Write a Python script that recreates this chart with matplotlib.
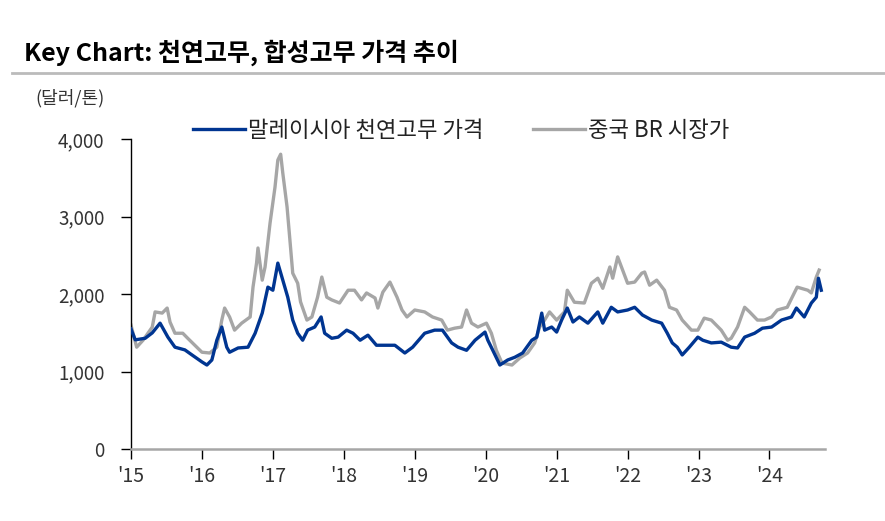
import matplotlib
matplotlib.use("Agg")
import matplotlib.pyplot as plt
from matplotlib.ticker import FuncFormatter

plt.rcParams['font.family'] = ['Noto Sans CJK KR', 'DejaVu Sans']

### 말레이시아 천연고무 가격 (달러/톤)
my_years = [2015.00, 2015.06, 2015.20, 2015.30, 2015.41, 2015.52, 2015.62, 2015.76, 2015.86,
            2016.00, 2016.07, 2016.14, 2016.21, 2016.28, 2016.35, 2016.39, 2016.51, 2016.65,
            2016.75, 2016.85, 2016.93, 2017.00, 2017.07, 2017.14, 2017.21, 2017.28, 2017.35,
            2017.42, 2017.49, 2017.59, 2017.68, 2017.73, 2017.83, 2017.92, 2018.04, 2018.13,
            2018.23, 2018.34, 2018.46, 2018.58, 2018.72, 2018.86, 2018.97, 2019.14, 2019.28,
            2019.39, 2019.52, 2019.61, 2019.73, 2019.85, 2019.99, 2020.03, 2020.10, 2020.20,
            2020.31, 2020.41, 2020.52, 2020.65, 2020.72, 2020.79, 2020.83, 2020.93, 2021.00,
            2021.07, 2021.15, 2021.23, 2021.32, 2021.44, 2021.58, 2021.65, 2021.77, 2021.86,
            2022.00, 2022.10, 2022.21, 2022.34, 2022.48, 2022.56, 2022.63, 2022.70, 2022.77,
            2022.87, 2022.99, 2023.06, 2023.18, 2023.32, 2023.46, 2023.55, 2023.65, 2023.79,
            2023.90, 2024.03, 2024.17, 2024.31, 2024.38, 2024.49, 2024.59, 2024.66, 2024.69,
            2024.73]
my_price = [1550, 1410, 1430, 1500, 1625, 1445, 1315, 1280, 1215,
            1125, 1085, 1150, 1405, 1575, 1315, 1250, 1305, 1315,
            1495, 1755, 2090, 2050, 2400, 2180, 1960, 1665, 1495,
            1405, 1535, 1575, 1705, 1495, 1430, 1445, 1535, 1495,
            1405, 1470, 1340, 1340, 1340, 1240, 1315, 1495, 1535,
            1535, 1370, 1315, 1275, 1405, 1510, 1405, 1275, 1085,
            1150, 1185, 1240, 1405, 1445, 1755, 1535, 1575, 1510,
            1665, 1820, 1640, 1705, 1625, 1770, 1625, 1830, 1770,
            1795, 1830, 1730, 1665, 1625, 1495, 1370, 1315, 1215,
            1315, 1445, 1405, 1370, 1380, 1315, 1305, 1445, 1495,
            1560, 1575, 1665, 1705, 1820, 1705, 1885, 1960, 2205,
            2050]

### 중국 BR 시장가 (달러/톤)
br_years = [2015.00, 2015.08, 2015.17, 2015.30, 2015.34, 2015.44, 2015.51, 2015.55, 2015.62,
            2015.73, 2015.80, 2015.90, 2016.00, 2016.11, 2016.21, 2016.28, 2016.32, 2016.39,
            2016.46, 2016.56, 2016.68, 2016.72, 2016.77, 2016.79, 2016.85, 2016.89, 2016.96,
            2017.03, 2017.07, 2017.11, 2017.14, 2017.20, 2017.24, 2017.28, 2017.35, 2017.39,
            2017.48, 2017.55, 2017.63, 2017.69, 2017.76, 2017.83, 2017.94, 2018.06, 2018.15,
            2018.25, 2018.32, 2018.44, 2018.48, 2018.55, 2018.65, 2018.75, 2018.82, 2018.89,
            2019.00, 2019.14, 2019.25, 2019.38, 2019.46, 2019.56, 2019.66, 2019.73, 2019.80,
            2019.89, 2020.01, 2020.08, 2020.15, 2020.23, 2020.37, 2020.48, 2020.59, 2020.69,
            2020.76, 2020.83, 2020.90, 2021.00, 2021.11, 2021.15, 2021.25, 2021.39, 2021.49,
            2021.58, 2021.65, 2021.75, 2021.79, 2021.86, 2021.93, 2022.00, 2022.10, 2022.20,
            2022.24, 2022.31, 2022.41, 2022.52, 2022.59, 2022.69, 2022.77, 2022.90, 2022.99,
            2023.08, 2023.18, 2023.32, 2023.41, 2023.46, 2023.55, 2023.65, 2023.72, 2023.83,
            2023.93, 2024.03, 2024.11, 2024.25, 2024.39, 2024.54, 2024.59, 2024.66, 2024.70]
br_price = [1600, 1315, 1405, 1575, 1770, 1755, 1820, 1640, 1495,
            1495, 1430, 1340, 1250, 1240, 1315, 1665, 1820, 1705,
            1535, 1625, 1705, 2090, 2400, 2595, 2180, 2350, 2915,
            3380, 3730, 3805, 3560, 3125, 2700, 2270, 2140, 1900,
            1665, 1705, 1960, 2220, 1960, 1925, 1885, 2050, 2050,
            1925, 2015, 1950, 1820, 2025, 2155, 1960, 1795, 1705,
            1795, 1770, 1705, 1665, 1535, 1560, 1575, 1795, 1625,
            1575, 1625, 1495, 1275, 1110, 1085, 1175, 1240, 1370,
            1575, 1665, 1770, 1665, 1770, 2050, 1895, 1885, 2140,
            2205, 2075, 2350, 2205, 2480, 2310, 2140, 2155, 2270,
            2285, 2115, 2180, 2050, 1830, 1795, 1665, 1535, 1535,
            1690, 1665, 1535, 1405, 1430, 1575, 1830, 1770, 1665,
            1665, 1705, 1795, 1830, 2090, 2050, 2015, 2220, 2310]

tick_years = list(range(2015, 2025))
tick_labels = ["'%d" % (y - 2000) for y in tick_years]

fig = plt.figure(figsize=(8.85, 5.21), dpi=100)
ax = fig.add_axes([0.148, 0.138, 0.784, 0.595])

ax.plot(my_years, my_price, color='#003591', lw=2.4, label='말레이시아 천연고무 가격', zorder=3)
ax.plot(br_years, br_price, color='#a6a6a6', lw=2.4, label='중국 BR 시장가', zorder=2)

ax.set_xlim(2015, 2024.78)
ax.set_ylim(0, 4000)
ax.set_yticks([0, 1000, 2000, 3000, 4000])
ax.yaxis.set_major_formatter(FuncFormatter(lambda v, p: '{:,.0f}'.format(v)))
ax.set_xticks(tick_years)
ax.set_xticklabels(tick_labels, fontsize=14, color='#333333')

for s in ['top', 'right']:
    ax.spines[s].set_visible(False)
ax.spines['left'].set_color('#000000')
ax.spines['left'].set_linewidth(1.0)
ax.spines['bottom'].set_color('#a6a6a6')
ax.spines['bottom'].set_linewidth(1.8)

ax.tick_params(axis='y', direction='out', length=7, width=1, pad=12, labelsize=13.5, labelcolor='#333333')
ax.tick_params(axis='x', direction='out', length=7, width=1, pad=5, color='#000000')

ax.legend(loc='center', bbox_to_anchor=(0.521, 0.749), bbox_transform=fig.transFigure,
          ncol=2, frameon=False, fontsize=16, handlelength=2.35, handletextpad=0.1,
          columnspacing=2.25, labelcolor='#222222', borderpad=0.2)

### Title and unit
fig.text(0.027, 0.898, 'Key Chart: 천연고무, 합성고무 가격 추이', fontsize=18, fontweight='bold',
         va='center', ha='left', color='#000000')
fig.add_artist(plt.Line2D([0.014, 1.0], [0.859, 0.859], color='#bbbbbb', lw=2, transform=fig.transFigure))
fig.text(0.040, 0.812, '(달러/톤)', fontsize=13, va='center', ha='left', color='#333333')

fig.savefig('out.png', dpi=100)
